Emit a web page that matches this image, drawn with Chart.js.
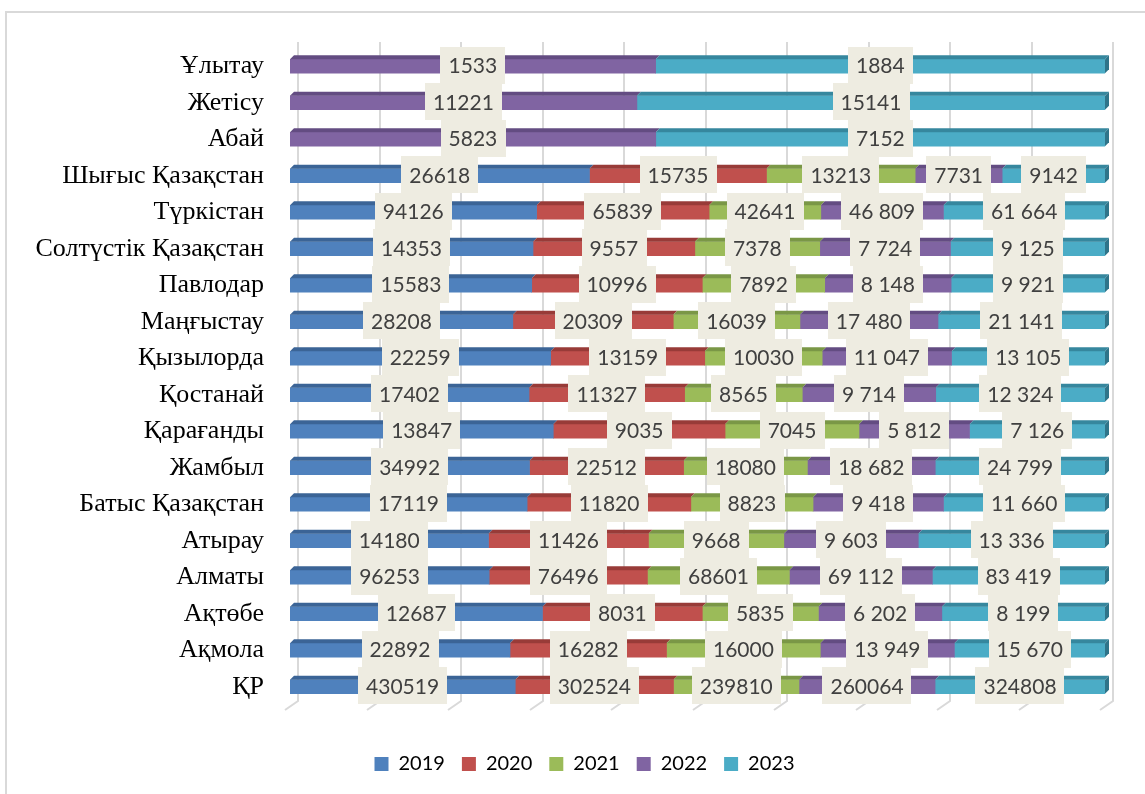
<!DOCTYPE html>
<html>
<head>
<meta charset="utf-8">
<script src="https://cdn.jsdelivr.net/npm/chart.js@4.4.1/dist/chart.umd.min.js"></script>
<style>
  body { margin: 0; background: #fff; }
  #frame { position: absolute; left: 5px; top: 11px; width: 1160px; height: 800px;
           border-left: 2px solid #D9D9D9; border-top: 2px solid #D9D9D9; }
  #wrap { position: absolute; left: 0; top: 0; width: 1145px; height: 794px; }
</style>
</head>
<body>
<div id="frame"></div>
<div id="wrap"><canvas id="mybar"></canvas></div>
<script>
// regions, top to bottom
const categories = ['Ұлытау', 'Жетісу', 'Абай', 'Шығыс Қазақстан', 'Түркістан', 'Солтүстік Қазақстан',
    'Павлодар', 'Маңғыстау', 'Қызылорда', 'Қостанай', 'Қарағанды', 'Жамбыл', 'Батыс Қазақстан',
    'Атырау', 'Алматы', 'Ақтөбе', 'Ақмола', 'ҚР'];
const years = ['2019', '2020', '2021', '2022', '2023'];

const v2019 = [null, null, null, 26618, 94126, 14353, 15583, 28208, 22259, 17402, 13847, 34992, 17119, 14180, 96253, 12687, 22892, 430519];
const v2020 = [null, null, null, 15735, 65839, 9557, 10996, 20309, 13159, 11327, 9035, 22512, 11820, 11426, 76496, 8031, 16282, 302524];
const v2021 = [null, null, null, 13213, 42641, 7378, 7892, 16039, 10030, 8565, 7045, 18080, 8823, 9668, 68601, 5835, 16000, 239810];
const v2022 = [1533, 11221, 5823, 7731, 46809, 7724, 8148, 17480, 11047, 9714, 5812, 18682, 9418, 9603, 69112, 6202, 13949, 260064];
const v2023 = [1884, 15141, 7152, 9142, 61664, 9125, 9921, 21141, 13105, 12324, 7126, 24799, 11660, 13336, 83419, 8199, 15670, 324808];

// rows whose 2022/2023 labels are written with a space separator
const spacedRows = ['Түркістан', 'Солтүстік Қазақстан', 'Павлодар', 'Маңғыстау', 'Қызылорда', 'Қостанай',
    'Қарағанды', 'Жамбыл', 'Батыс Қазақстан', 'Атырау', 'Алматы', 'Ақтөбе', 'Ақмола'];

const colors = ['#4F81BD', '#C0504D', '#9BBB59', '#8064A2', '#4BACC6'];
const topColors = ['#3B6496', '#983B38', '#7A9746', '#634C82', '#36879E'];

const series = [v2019, v2020, v2021, v2022, v2023];
const totals = categories.map((c, i) => series.reduce((s, arr) => s + (arr[i] || 0), 0));

function labelText(seriesIdx, row, val) {
    const s = String(val);
    if (seriesIdx >= 3 && spacedRows.includes(categories[row])) {
        return s.replace(/\B(?=(\d{3})+(?!\d))/g, ' ');
    }
    return s;
}

// push the legend a bit to the right, like the original
const legendShift = {
    id: 'legendShift',
    afterLayout(chart) {
        if (chart.legend) {
            chart.legend.left += 64;
            chart.legend.right += 0;
        }
    }
};

// back-wall gridlines with the little floor edge
const wallGrid = {
    id: 'wallGrid',
    beforeDatasetsDraw(chart) {
        const ctx = chart.ctx;
        const xs = chart.scales.x;
        const area = chart.chartArea;
        ctx.save();
        ctx.strokeStyle = '#D9D9D9';
        ctx.lineWidth = 2;
        xs.ticks.forEach(t => {
            const x = Math.round(xs.getPixelForValue(t.value)) + 8;
            ctx.beginPath();
            ctx.moveTo(x, area.top - 6);
            ctx.lineTo(x, area.bottom - 4);
            ctx.lineTo(x - 13, area.bottom + 5);
            ctx.stroke();
        });
        ctx.restore();
    }
};

// 3D top faces, right caps and the value boxes
const barDeco = {
    id: 'barDeco',
    afterDatasetsDraw(chart) {
        const ctx = chart.ctx;
        const d = 4;
        ctx.save();
        chart.data.datasets.forEach((ds, di) => {
            const meta = chart.getDatasetMeta(di);
            meta.data.forEach((bar, i) => {
                if (ds.data[i] == null) return;
                const x0 = bar.base, x1 = bar.x, top = bar.y - bar.height / 2, bot = bar.y + bar.height / 2;
                ctx.fillStyle = topColors[di];
                ctx.beginPath();
                ctx.moveTo(x0, top);
                ctx.lineTo(x0 + d, top - d);
                ctx.lineTo(x1 + d, top - d);
                ctx.lineTo(x1, top);
                ctx.closePath();
                ctx.fill();
                if (di === chart.data.datasets.length - 1) {
                    ctx.fillStyle = '#2F7489';
                    ctx.beginPath();
                    ctx.moveTo(x1, top);
                    ctx.lineTo(x1 + d, top - d);
                    ctx.lineTo(x1 + d, bot - d);
                    ctx.lineTo(x1, bot);
                    ctx.closePath();
                    ctx.fill();
                }
            });
        });
        ctx.font = '21px Lato';
        ctx.textAlign = 'center';
        ctx.textBaseline = 'middle';
        categories.forEach((c, i) => {
            chart.data.datasets.forEach((ds, di) => {
                if (ds.data[i] == null) return;
                const bar = chart.getDatasetMeta(di).data[i];
                const cx = (bar.base + bar.x) / 2;
                const cy = bar.y - 1;
                const txt = labelText(di, i, series[di][i]);
                const w = ctx.measureText(txt).width + 16;
                ctx.fillStyle = '#EEECE1';
                ctx.fillRect(Math.round(cx - w / 2), Math.round(cy - 18.5), Math.round(w), 37);
                ctx.fillStyle = '#404040';
                ctx.fillText(txt, cx, cy + 1);
            });
        });
        ctx.restore();
    }
};

const ctx = document.getElementById('mybar').getContext('2d');
const myChart = new Chart(ctx, {
    type: 'bar',
    data: {
        labels: categories,
        datasets: years.map((y, k) => ({
            label: y,
            data: series[k].map((v, i) => v == null ? null : v / totals[i] * 100),
            backgroundColor: colors[k],
            borderWidth: 0,
            barThickness: 14
        }))
    },
    options: {
        responsive: true,
        maintainAspectRatio: false,
        animation: false,
        indexAxis: 'y',
        layout: { padding: { top: 48, right: 40, bottom: 10, left: 0 } },
        scales: {
            x: {
                stacked: true,
                min: 0,
                max: 100,
                ticks: { display: false, stepSize: 10 },
                grid: { display: false },
                border: { display: false },
                afterFit: (scale) => { scale.height = 32; }
            },
            y: {
                stacked: true,
                grid: { display: false },
                border: { display: false },
                ticks: {
                    color: '#000',
                    padding: 18,
                    font: { family: 'Liberation Serif', size: 26 }
                },
                afterFit: (scale) => { scale.width = 290; }
            }
        },
        plugins: {
            tooltip: { enabled: false },
            legend: {
                position: 'bottom',
                labels: {
                    boxWidth: 14,
                    boxHeight: 14,
                    padding: 17,
                    color: '#000',
                    font: { family: 'Lato', size: 20 }
                }
            }
        }
    },
    plugins: [legendShift, wallGrid, barDeco]
});
</script>
</body>
</html>
